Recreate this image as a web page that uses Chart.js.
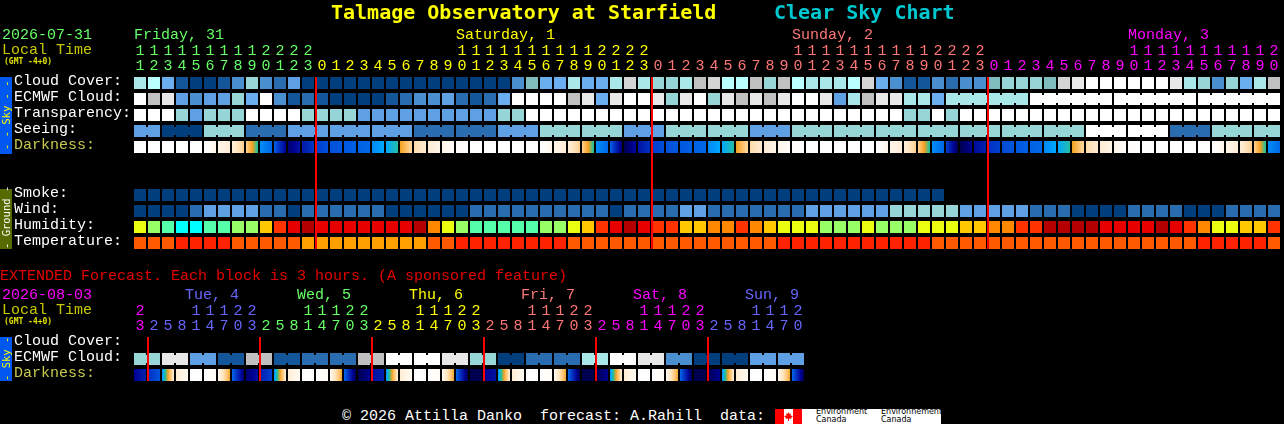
<!DOCTYPE html>
<html>
<head>
<meta charset="utf-8">
<title>Talmage Observatory at Starfield Clear Sky Chart</title>
<script src="https://cdn.jsdelivr.net/npm/chart.js@4/dist/chart.umd.js"></script>
<style>
    html, body { margin: 0; background: #000; overflow: hidden; }
    #page { position: relative; width: 1284px; height: 424px; font: 15px "Liberation Mono", monospace; color: #fff; }
    #page canvas { position: absolute; left: 0; }
    .txt { position: absolute; white-space: pre; line-height: 18px; }
    .title { font: bold 20px "DejaVu Sans Mono", monospace; line-height: 24px; top: 0; }
    .side { position: absolute; left: 0; width: 12px; writing-mode: vertical-rl; transform: rotate(180deg);
        text-align: center; font: 10.5px/12px "DejaVu Sans Mono", monospace; white-space: pre; }
    #logo { position: absolute; left: 775px; top: 409px; width: 166px; height: 15px; background: #fff; overflow: hidden; }
    #logo i { position: absolute; top: 0; height: 15px; width: 9px; background: #f00; }
    #logo span { position: absolute; color: #000; font: 8px/8px "DejaVu Sans", sans-serif; top: -1px; white-space: pre; }
</style>
</head>
<body>
<div id="page">
    <canvas id="mainChart" width="1284" height="260" style="top:0"></canvas>
    <canvas id="extChart" width="1284" height="140" style="top:260px"></canvas>

    <div class="txt title" style="left:331px;color:#ffff00">Talmage Observatory at Starfield</div>
    <div class="txt title" style="left:774px;color:#00c8d0">Clear Sky Chart</div>
    <div class="txt" style="left:0;top:268px;color:#e60000">EXTENDED Forecast. Each block is 3 hours. (A sponsored feature)</div>

    <div class="side" style="top:77px;height:77px;background:#0058f0;color:#ffff00">- - Sky - -</div>
    <div class="side" style="top:189px;height:60px;background:#556b00;color:#fff">- Ground -</div>
    <div class="side" style="top:337px;height:44px;background:#0058f0;color:#ffff00">- Sky -</div>

    <div class="txt" style="left:342px;top:408px">© 2026 Attilla Danko  forecast: A.Rahill  data:</div>
    <div id="logo">
        <i style="left:0"></i><i style="left:18px"></i>
        <svg width="9" height="9" viewBox="0 0 9 9" style="position:absolute;left:9px;top:3px">
            <path d="M4.5 0 5.5 2 7 1.5 6.5 3.5 9 4 7 6 7.5 7 5 6.5V9H4V6.5L1.5 7 2 6 0 4 2.500 3.500 2 1.500 3.500 2Z" fill="#f00"/>
        </svg>
        <span style="left:41px">Environment
Canada</span>
        <span style="left:106px">Environnement
Canada</span>
    </div>
</div>

<script>
// row names
const mainRows = ['Cloud Cover:', 'ECMWF Cloud:', 'Transparency:', 'Seeing:', 'Darkness:', '', '', 'Smoke:', 'Wind:', 'Humidity:', 'Temperature:'];
const extRows = ['Cloud Cover:', 'ECMWF Cloud:', 'Darkness:'];

// tick labels: the hour of each block
const mainHours = [11, 12, 13, 14, 15, 16, 17, 18, 19, 20, 21, 22, 23,
    0, 1, 2, 3, 4, 5, 6, 7, 8, 9, 10, 11, 12, 13, 14, 15, 16, 17, 18, 19, 20, 21, 22, 23,
    0, 1, 2, 3, 4, 5, 6, 7, 8, 9, 10, 11, 12, 13, 14, 15, 16, 17, 18, 19, 20, 21, 22, 23,
    0, 1, 2, 3, 4, 5, 6, 7, 8, 9, 10, 11, 12, 13, 14, 15, 16, 17, 18, 19, 20];
const extHours = [23, 2, 5, 8, 11, 14, 17, 20, 23, 2, 5, 8, 11, 14, 17, 20, 23, 2, 5, 8, 11, 14, 17, 20, 23,
    2, 5, 8, 11, 14, 17, 20, 23, 2, 5, 8, 11, 14, 17, 20, 23, 2, 5, 8, 11, 14, 17, 20];

// day headings
const mainDays = ['Friday, 31', 'Saturday, 1', 'Sunday, 2', 'Monday, 3'];
const mainDayCells = [0, 23, 47, 71];
const mainDayColors = ['#66ff66', '#ffff00', '#ff7777', '#ff00ff'];
const extDays = ['Tue, 4', 'Wed, 5', 'Thu, 6', 'Fri, 7', 'Sat, 8', 'Sun, 9'];
const extDayCells = [4, 12, 20, 28, 36, 44];
const extHourColors = ['#ff00ff', '#6666ff', '#66ff66', '#ffff00', '#ff7777', '#ff00ff', '#6666ff'];

// sky levels, 0 = best, 13 = worst
const cloudCover = [8, 9, 5, 1, 0, 0, 1, 3, 7, 3, 2, 4, 0,
    0, 0, 0, 0, 0, 0, 0, 0, 0, 0, 0, 0, 0, 0,
    3, 6, 5, 5, 8, 5, 5, 8, 11, 8, 7, 7, 8, 10, 11, 9, 9, 10, 7, 10, 9, 8, 8, 8, 9,
    11, 5, 3, 1, 1, 3, 2, 3, 3, 6, 7, 7, 7, 6, 11, 12, 13, 13, 13, 13, 13, 13, 12, 8, 7, 3, 7, 5, 8, 10];
const ecmwfCloud = [13, 10, 12, 4, 3, 4, 4, 7, 5, 13, 3, 1, 2, 1, 0, 0, 0, 0, 1, 2, 3,
    3, 4, 2, 1, 2, 5, 13, 13, 13, 13, 10, 12, 5, 12, 13, 13, 12, 7, 12, 13, 7, 12, 10, 12, 10, 12, 13, 13, 12, 4, 8,
    10, 12, 12, 8, 8, 5, 8, 8, 8, 8, 8, 8, 13, 13, 13, 13, 13, 13, 13, 13, 13, 13, 13, 13, 13, 13, 13, 13, 13, 13];
const transparency = [13, 13, 13, 7, 4, 7, 7, 7, 13, 13, 13, 13, 7, 7, 7, 7, 4, 4, 4, 4, 4,
    4, 4, 4, 4, 4, 7, 7, 13, 13, 13, 13, 13, 13, 13, 13, 13, 13, 13, 13, 13, 13, 13, 13, 13, 13, 13, 13, 13, 13, 13, 13,
    13, 13, 13, 7, 7, 13, 7, 13, 13, 13, 13, 13, 13, 13, 13, 13, 13, 13, 13, 13, 13, 13, 13, 13, 13, 13, 13, 13, 13, 13];
const seeing = [4, 4, 0, 0, 0, 7, 7, 7, 2, 2, 2, 4, 4, 4, 4, 4, 4, 4, 4, 4, 2, 2, 2, 2, 2, 2, 4, 4, 4,
    7, 7, 7, 7, 7, 7, 4, 4, 4, 7, 7, 7, 7, 7, 7, 4, 4, 4, 7, 7, 7, 7, 7, 7, 7, 7, 7, 7, 7, 7,
    7, 7, 7, 7, 7, 7, 7, 7, 7, 13, 13, 13, 13, 13, 13, 2, 2, 2, 7, 7, 7, 7, 7];
const smoke = [0, 0, 0, 0, 0, 0, 0, 0, 0, 0, 0, 0, 0, 0, 0, 0, 0, 0, 0, 0, 0, 0, 0, 0, 0, 0, 0, 0, 0,
    0, 0, 0, 0, 0, 0, 0, 0, 0, 0, 0, 0, 0, 0, 0, 0, 0, 0, 0, 0, 0, 0, 0, 0, 0, 0, 0, 0, 0];
const wind = [0, 0, 0, 0, 2, 4, 4, 4, 4, 2, 2, 0, 2, 2, 2, 2, 2, 2, 0, 0, 0,
    0, 0, 0, 2, 2, 2, 2, 2, 2, 2, 2, 2, 2, 0, 2, 2, 2, 2, 4, 4, 2, 2, 2, 2, 2, 2, 2, 4, 4, 4, 4,
    4, 4, 7, 7, 7, 7, 7, 4, 4, 4, 4, 4, 2, 2, 2, 0, 0, 0, 0, 2, 2, 2, 2, 0, 0, 0, 2, 2, 2, 2];
// humidity levels, 0 = dry, 8 = wet
const humidity = [3, 2, 1, 0, 0, 1, 1, 2, 2, 4, 6, 7, 8, 7, 7, 7, 7, 7, 7, 7, 8,
    5, 3, 2, 1, 1, 1, 1, 1, 2, 2, 3, 4, 6, 7, 8, 7, 6, 6, 4, 4, 5, 5, 6, 5, 4, 3, 3, 3, 2, 2, 2,
    3, 2, 2, 2, 3, 3, 3, 4, 4, 5, 5, 6, 6, 8, 8, 8, 8, 7, 7, 7, 7, 8, 7, 6, 5, 3, 3, 4, 4, 6];
// temperature bands, 0 = cool, 2 = warm
const temperature = [1, 1, 1, 2, 2, 2, 2, 1, 1, 1, 1, 1, 0, 0, 0, 0, 0, 0, 0, 0, 0,
    1, 1, 2, 2, 2, 2, 2, 2, 2, 2, 1, 1, 1, 1, 1, 1, 1, 1, 1, 1, 1, 1, 1, 1, 1, 2, 2, 2, 2, 2, 2,
    2, 2, 2, 2, 2, 1, 1, 1, 1, 1, 1, 1, 1, 1, 1, 1, 1, 1, 1, 1, 1, 1, 1, 1, 2, 2, 2, 2, 2, 1];

// darkness at the start and at the end of each block, 0 = daylight, 11 = black sky
const darkStart = [0, 0, 0, 0, 0, 0, 1, 1.5,
    2.7, 6.4, 7.2, 10.5, 9.2, 8.1, 7.6, 7.4, 7.2, 6.5, 6, 4, 2.4, 1.6, 1, 0.3, 0, 0, 0, 0, 0, 0, 1, 1.5,
    2.7, 6.4, 7.2, 11, 9.4, 8.2, 7.6, 7.4, 7.2, 6.5, 6, 4, 2.4, 1.6, 1, 0.3, 0, 0, 0, 0, 0, 0, 1, 1.5,
    2.7, 6.4, 8, 11, 9.7, 8.5, 7.7, 7.4, 7.2, 6.5, 6, 4, 2.4, 1.6, 1, 0.3, 0, 0, 0, 0, 0, 0, 1, 1.5,
    2.7, 6.4];
const darkEnd = [0, 0, 0, 0, 0, 1, 1.5, 2.7,
    5.2, 7, 10, 9.4, 8.3, 7.6, 7.4, 7.2, 7, 6, 5.2, 2.5, 1.7, 1.1, 0.4, 0, 0, 0, 0, 0, 0, 1, 1.5, 2.7,
    5.2, 7, 10.5, 9.6, 8.5, 7.6, 7.4, 7.2, 7, 6, 5.2, 2.5, 1.7, 1.1, 0.4, 0, 0, 0, 0, 0, 0, 1, 1.5, 2.7,
    5.2, 7, 11, 10, 9, 8, 7.5, 7.2, 7, 6, 5.2, 2.5, 1.7, 1.1, 0.4, 0, 0, 0, 0, 0, 0, 1, 1.5, 2.7,
    5.2, 7];

// extended forecast, 3 hour blocks
const extCloud = [7, 7, 12, 12, 4, 4, 1, 1, 10, 10, 1, 1, 2, 2, 2, 2, 10, 10, 13, 13, 13, 13, 12, 12,
    7, 7, 0, 0, 2, 2, 2, 2, 8, 8, 13, 13, 12, 12, 3, 3, 0, 0, 0, 0, 4, 4, 4, 4];
const extDarkStart = [10, 8.5, 6.4, 1.6, 0, 0, 0.8, 7, 10.5, 9, 6.4, 1.6, 0, 0, 0.8, 7,
    11, 9.5, 6.4, 1.6, 0, 0, 0.8, 7, 11, 10, 6.4, 1.6, 0, 0, 0.8, 7,
    11, 11, 6.4, 1.6, 0, 0, 0.8, 7, 11, 11, 6.4, 1.6, 0, 0, 0.8, 7];
const extDarkEnd = [9, 7.5, 1.6, 0.6, 0, 0.5, 3.8, 10.5, 9.5, 8, 1.6, 0.6, 0, 0.5, 3.8, 11,
    10, 9, 1.6, 0.6, 0, 0.5, 3.8, 11, 11, 9.5, 1.6, 0.6, 0, 0.5, 3.8, 11,
    11, 10, 1.6, 0.6, 0, 0.5, 3.8, 11, 11, 10, 1.6, 0.6, 0, 0.5, 3.8, 11];

// which neighbouring blocks share one forecast value
const seeingBlocks = [2, 3, 3, 3, 3, 3, 3, 3, 3, 3, 3, 3, 3, 3, 3, 3, 3, 3, 3, 3, 3, 3, 3, 3, 3, 3, 3, 2];
const ecmwfFirstBlock = 58;
const ecmwfBlocks = [6, 6, 6, 6];
const extBlocks = [2, 2, 2, 2, 2, 2, 2, 2, 2, 2, 2, 2, 2, 2, 2, 2, 2, 2, 2, 2, 2, 2, 2, 2];

// colours
const skyColors = ['#003e7e', '#14569a', '#2a6cb0', '#4a8fd0', '#5f9fe3', '#6aaeef', '#7fbcbc',
    '#96d6d6', '#a8e8e8', '#baffff', '#c0c0c0', '#d4d4d4', '#e8e8e8', '#ffffff'];
const humidityColors = ['#00ffff', '#55ffaa', '#99ff66', '#eaff10', '#ffc800', '#ff8800', '#ff3300', '#e60000', '#b40000'];
const temperatureColors = ['#ffa000', '#ff5a00', '#ff2200'];
const darkColors = [[255, 255, 255], [255, 246, 234], [255, 230, 196], [255, 200, 120], [245, 160, 32], [48, 192, 144],
    [0, 168, 255], [0, 104, 232], [0, 64, 208], [0, 32, 176], [0, 0, 144], [0, 0, 80]];

const CELL = 14;
const BLOCK = 12;
const MONO = '"Liberation Mono", monospace';

function darkColorAt(level) {
    const low = Math.floor(level);
    const high = Math.min(low + 1, darkColors.length - 1);
    const t = level - low;
    const c = darkColors[low].map((v, i) => Math.round(v + (darkColors[high][i] - v) * t));
    return `rgb(${c[0]},${c[1]},${c[2]})`;
}

function cellRow(values, row, colors) {
    return {
        data: values.map((v, i) => ({x: i, y: [row - 0.375, row + 0.375]})),
        backgroundColor: values.map(v => colors[v]),
        barThickness: BLOCK,
        grouped: false,
        inflateAmount: 0,
        borderWidth: 0
    };
}

function darkRow(starts, ends, row) {
    const ds = cellRow(starts, row, []);
    ds.backgroundColor = ctx => {
        if (ctx.type !== 'data') return '#000';
        const center = ctx.chart.scales.x.getPixelForValue(ctx.dataIndex);
        // scales have no size yet on the first pass
        if (!Number.isFinite(center)) return '#000';
        const a = starts[ctx.dataIndex];
        const b = ends[ctx.dataIndex];
        const grad = ctx.chart.ctx.createLinearGradient(center - BLOCK / 2, 0, center + BLOCK / 2, 0);
        grad.addColorStop(0, darkColorAt(a));
        for (let level = Math.ceil(Math.min(a, b)); level < Math.max(a, b); level++) {
            if (level > Math.min(a, b)) grad.addColorStop((level - a) / (b - a), darkColorAt(level));
        }
        grad.addColorStop(1, darkColorAt(b));
        return grad;
    };
    return ds;
}

// the little bridges between blocks that belong together
function linkRow(values, row, blocks, firstCell) {
    const data = [];
    const colors = [];
    let cell = firstCell;
    blocks.forEach(size => {
        for (let i = 0; i < size - 1; i++) {
            data.push({x: cell + i + 0.5, y: [row - 0.25, row + 0.25]});
            colors.push(skyColors[values[cell + i]]);
        }
        cell += size;
    });
    return {data: data, backgroundColor: colors, barThickness: CELL - BLOCK, grouped: false, inflateAmount: 0, borderWidth: 0};
}

function midnights(hours) {
    const cells = [];
    hours.forEach((h, i) => { if (i > 0 && h < hours[i - 1]) cells.push(i); });
    return cells;
}

function hourColor(hours, colors) {
    const out = [];
    let day = 0;
    hours.forEach((h, i) => {
        if (i > 0 && h < hours[i - 1]) day++;
        out.push(colors[day]);
    });
    return out;
}

function notesPlugin(opts) {
    return {
        id: 'notes',
        afterDatasetsDraw(chart) {
            const {ctx, chartArea, scales} = chart;
            ctx.save();
            // midnight lines
            ctx.fillStyle = '#ff0000';
            midnights(opts.hours).forEach(cell => {
                ctx.fillRect(scales.x.getPixelForValue(cell) - CELL / 2, chartArea.top + 2, 2, chartArea.bottom - chartArea.top - 4);
            });
            ctx.textBaseline = 'alphabetic';
            ctx.textAlign = 'left';
            ctx.font = '15px ' + MONO;
            opts.days.forEach((name, i) => {
                ctx.fillStyle = opts.dayColors[i];
                ctx.fillText(name, scales.x.getPixelForValue(opts.dayCells[i]) + opts.dayShift, chartArea.top - 36);
            });
            ctx.fillStyle = opts.dateColor;
            ctx.fillText(opts.date, 2, chartArea.top - 36);
            ctx.fillStyle = '#c8c800';
            ctx.fillText('Local Time', 2, chartArea.top - 21);
            ctx.font = 'bold 8px "DejaVu Sans Mono", monospace';
            ctx.fillStyle = '#e0e000';
            ctx.fillText('(GMT -4+0)', 4, chartArea.top - 11);
            ctx.restore();
        }
    };
}

function makeChart(id, opts) {
    const tickColors = hourColor(opts.hours, opts.hourColors);
    return new Chart(document.getElementById(id), {
        type: 'bar',
        data: {datasets: opts.datasets},
        plugins: [notesPlugin(opts)],
        options: {
            responsive: false,
            animation: false,
            devicePixelRatio: 1,
            layout: {padding: {left: 14, top: 0, right: opts.padRight, bottom: opts.padBottom}},
            plugins: {legend: {display: false}, tooltip: {enabled: false}},
            scales: {
                x: {
                    type: 'linear',
                    position: 'top',
                    offset: false,
                    min: -0.5,
                    max: opts.hours.length - 0.5,
                    grid: {display: false, drawTicks: false},
                    border: {display: false},
                    afterBuildTicks: axis => { axis.ticks = opts.hours.map((h, i) => ({value: i})); },
                    afterFit: axis => { axis.height = 75; },
                    ticks: {
                        autoSkip: false,
                        maxRotation: 0,
                        minRotation: 0,
                        padding: 1,
                        font: {family: MONO, size: 15, lineHeight: 1},
                        color: ctx => tickColors[ctx.index],
                        callback: value => {
                            const h = opts.hours[value];
                            return [h > 9 ? String(Math.floor(h / 10)) : '', String(h % 10)];
                        }
                    }
                },
                y: {
                    type: 'linear',
                    reverse: true,
                    min: -0.5,
                    max: opts.rows.length - 0.5,
                    grid: {display: false, drawTicks: false},
                    border: {display: false},
                    afterBuildTicks: axis => { axis.ticks = opts.rows.map((r, i) => ({value: i - 0.125})); },
                    afterFit: axis => { axis.width = 119; },
                    ticks: {
                        autoSkip: false,
                        padding: 0,
                        crossAlign: 'far',
                        font: {family: MONO, size: 15},
                        color: ctx => (opts.rows[ctx.index] === 'Darkness:' ? '#c8c850' : '#ffffff'),
                        callback: value => opts.rows[Math.round(value + 0.125)]
                    }
                }
            }
        }
    });
}

makeChart('mainChart', {
    rows: mainRows,
    hours: mainHours,
    hourColors: mainDayColors,
    days: mainDays,
    dayCells: mainDayCells,
    dayColors: mainDayColors,
    dayShift: -6,
    date: '2026-07-31',
    dateColor: '#66ff66',
    padRight: 3,
    padBottom: 9,
    datasets: [
        cellRow(cloudCover, 0, skyColors),
        cellRow(ecmwfCloud, 1, skyColors),
        linkRow(ecmwfCloud, 1, ecmwfBlocks, ecmwfFirstBlock),
        cellRow(transparency, 2, skyColors),
        cellRow(seeing, 3, skyColors),
        linkRow(seeing, 3, seeingBlocks, 0),
        darkRow(darkStart, darkEnd, 4),
        cellRow(smoke, 7, skyColors),
        cellRow(wind, 8, skyColors),
        cellRow(humidity, 9, humidityColors),
        cellRow(temperature, 10, temperatureColors)
    ]
});

makeChart('extChart', {
    rows: extRows,
    hours: extHours,
    hourColors: extHourColors,
    days: extDays,
    dayCells: extDayCells,
    dayColors: extHourColors.slice(1),
    dayShift: -11,
    date: '2026-08-03',
    dateColor: '#ff00ff',
    padRight: 479,
    padBottom: 17,
    datasets: [
        cellRow(extCloud, 1, skyColors),
        linkRow(extCloud, 1, extBlocks, 0),
        darkRow(extDarkStart, extDarkEnd, 2)
    ]
});
</script>
</body>
</html>
